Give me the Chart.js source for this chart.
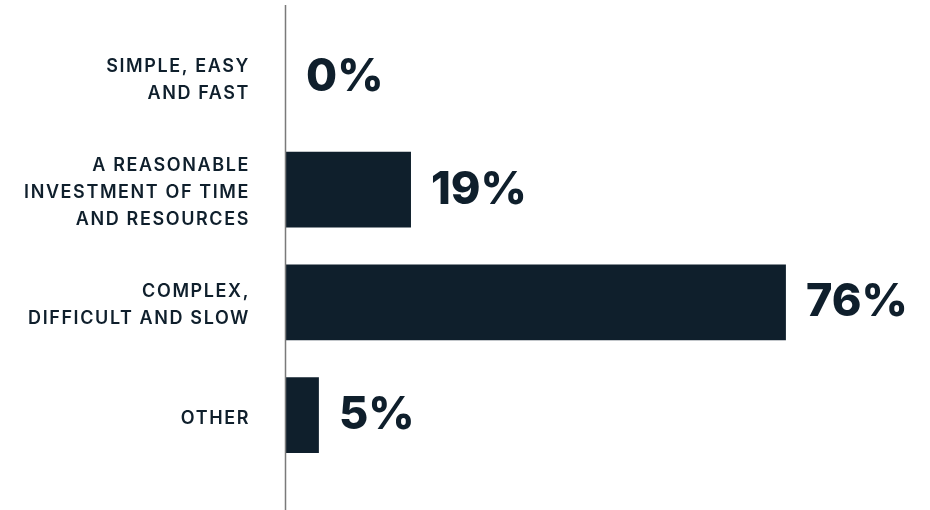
<!DOCTYPE html>
<html>
<head>
<meta charset="utf-8">
<script src="https://cdn.jsdelivr.net/npm/chart.js@4"></script>
<style>
  html, body { margin: 0; padding: 0; background: #ffffff; }
  #wrap { width: 930px; height: 510px; position: relative; }
</style>
</head>
<body>
<div id="wrap"><canvas id="chart"></canvas></div>
<script>
// Survey answers and their shares (%)
const categories = [
  ['SIMPLE, EASY', 'AND FAST'],
  ['A REASONABLE', 'INVESTMENT OF TIME', 'AND RESOURCES'],
  ['COMPLEX,', 'DIFFICULT AND SLOW'],
  ['OTHER']
];
const shares = [0, 19, 76, 5];

const INK = '#0f1f2c';

// Wider tracking and a slight downward nudge for the category labels
const tracking = {
  id: 'tracking',
  beforeDraw(chart) {
    chart.ctx.save();
    chart.ctx.letterSpacing = '1.6px';
    chart.ctx.translate(0, 3);
  },
  beforeDatasetsDraw(chart) {
    chart.ctx.restore();
  }
};

// Vertical baseline running the full height of the canvas at x = 0
const baseline = {
  id: 'baseline',
  afterDatasetsDraw(chart) {
    const { ctx, scales } = chart;
    const x = Math.round(scales.x.getPixelForValue(0)) - 0.5;
    ctx.save();
    ctx.strokeStyle = '#7a7a7a';
    ctx.lineWidth = 1.5;
    ctx.beginPath();
    ctx.moveTo(x, 5);
    ctx.lineTo(x, 510);
    ctx.stroke();
    ctx.restore();
  }
};

// Large percentage labels after each bar end
const valueLabels = {
  id: 'valueLabels',
  afterDatasetsDraw(chart) {
    const { ctx } = chart;
    const meta = chart.getDatasetMeta(0);
    ctx.save();
    ctx.letterSpacing = '0px';
    ctx.fillStyle = INK;
    ctx.font = '800 45px Inter';
    ctx.textAlign = 'left';
    ctx.textBaseline = 'alphabetic';
    meta.data.forEach((bar, i) => {
      ctx.fillText(shares[i] + '%', bar.x + 20, bar.y + 14);
    });
    ctx.restore();
  }
};

new Chart(document.getElementById('chart'), {
  type: 'bar',
  data: {
    labels: categories,
    datasets: [{
      data: shares,
      backgroundColor: INK,
      borderWidth: 0,
      categoryPercentage: 1,
      barPercentage: 0.674
    }]
  },
  options: {
    indexAxis: 'y',
    responsive: true,
    maintainAspectRatio: false,
    animation: false,
    layout: { padding: { top: 20.5, bottom: 38.5, left: 0, right: 52 } },
    plugins: { legend: { display: false }, tooltip: { enabled: false } },
    scales: {
      x: { display: false, min: 0, max: 90 },
      y: {
        grid: { display: false, drawTicks: false },
        border: { display: false },
        ticks: {
          color: INK,
          padding: 36,
          font: { family: 'Inter', size: 18, weight: '600', lineHeight: 1.48 }
        },
        afterFit(scale) {
          scale.width = 286;
          scale.paddingTop = 0;
          scale.paddingBottom = 0;
        }
      }
    }
  },
  plugins: [tracking, baseline, valueLabels]
});
</script>
</body>
</html>
